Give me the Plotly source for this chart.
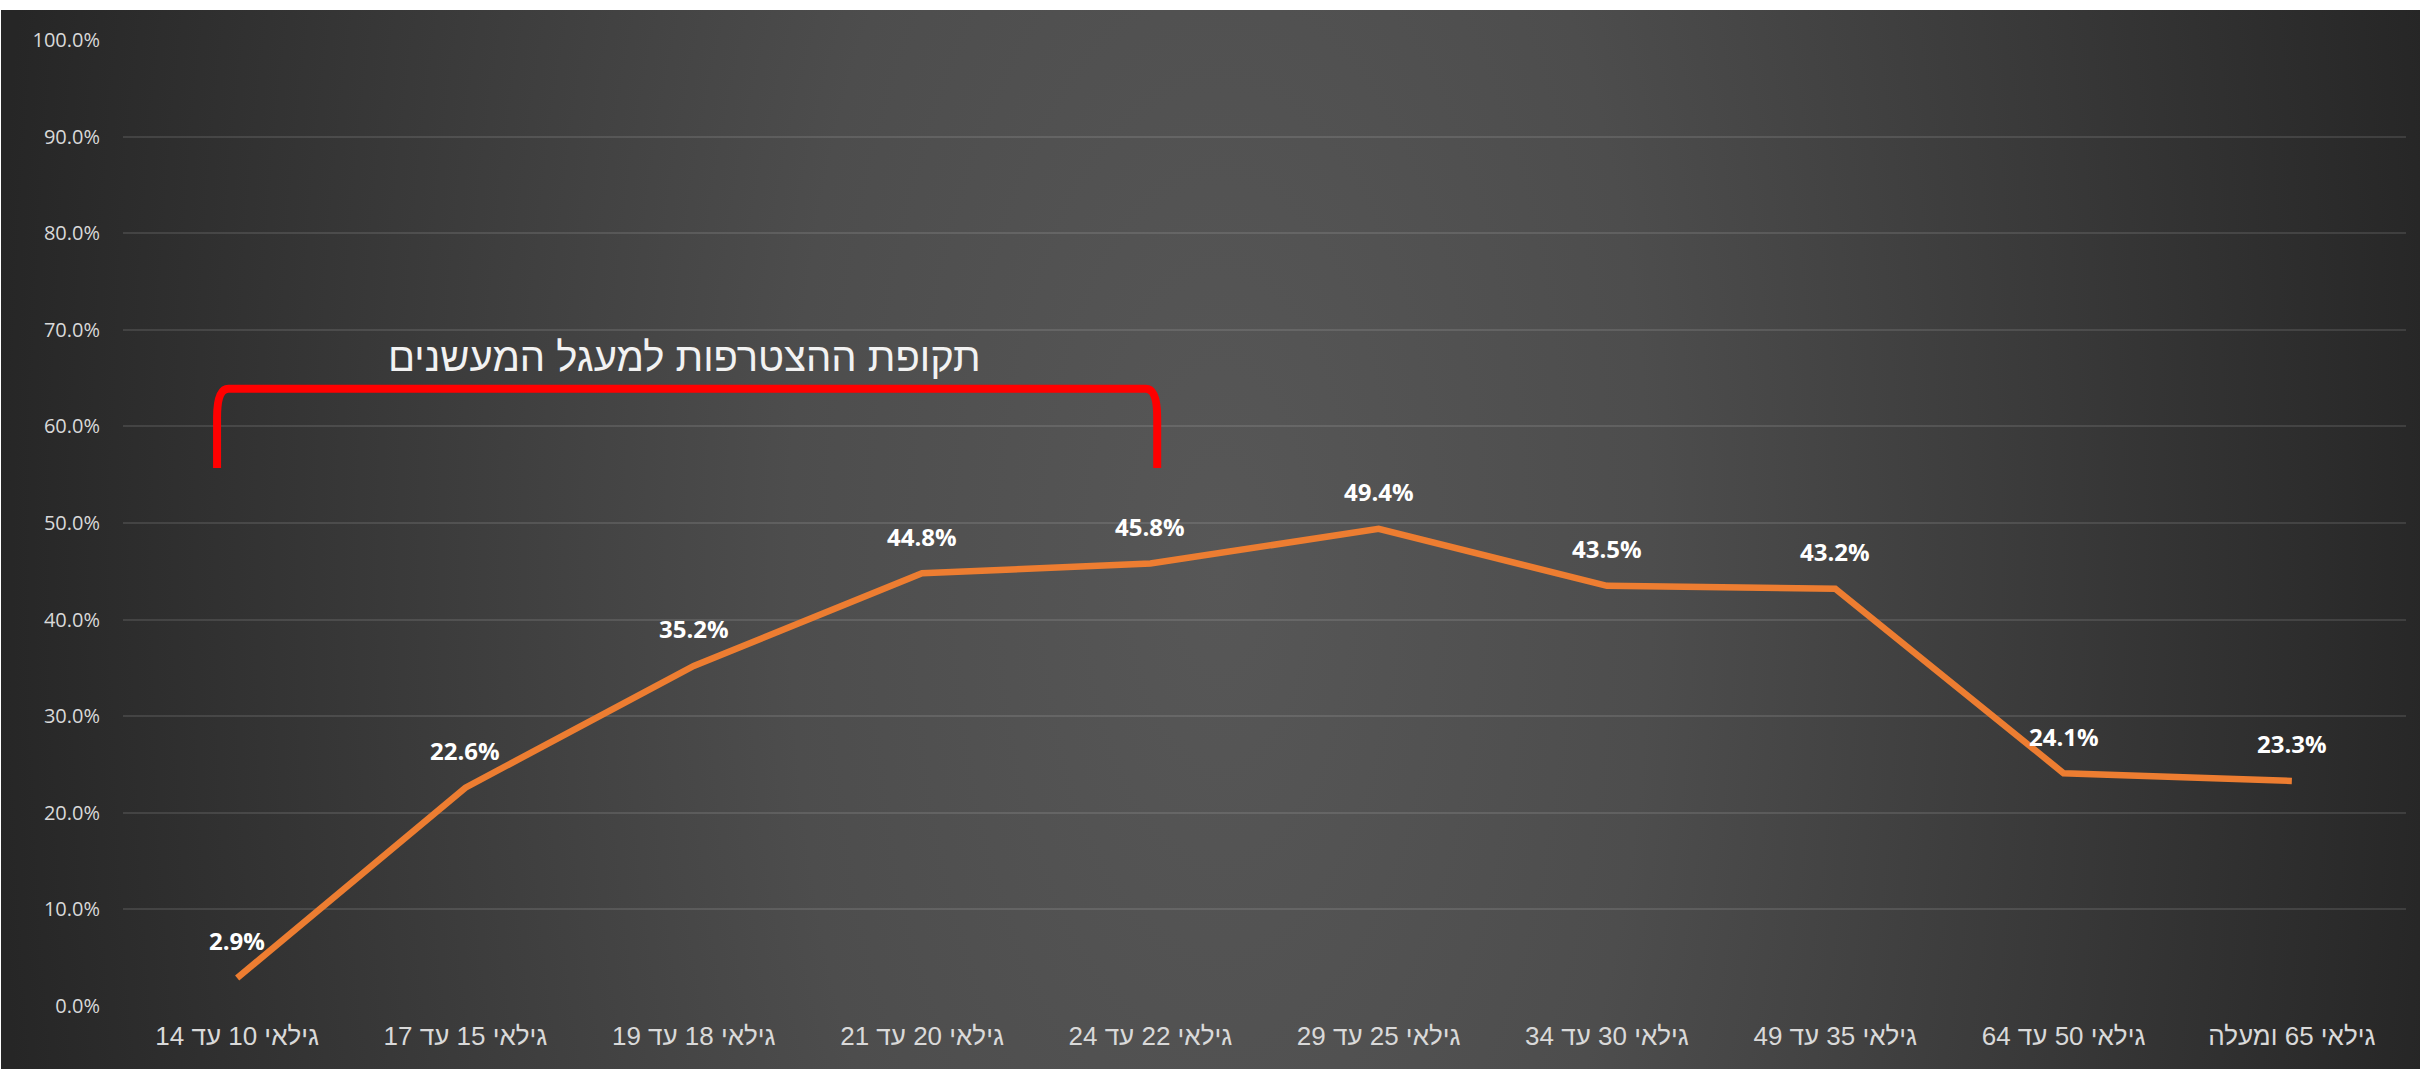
import base64
import plotly.graph_objects as go

# ---- data ----
categories = [
    "גילאי 10 עד 14",
    "גילאי 15 עד 17",
    "גילאי 18 עד 19",
    "גילאי 20 עד 21",
    "גילאי 22 עד 24",
    "גילאי 25 עד 29",
    "גילאי 30 עד 34",
    "גילאי 35 עד 49",
    "גילאי 50 עד 64",
    "גילאי 65 ומעלה",
]
values = [0.029, 0.226, 0.352, 0.448, 0.458, 0.494, 0.435, 0.432, 0.241, 0.233]
bracket_text = "תקופת ההצטרפות למעגל המעשנים"

# ---- layout geometry ----
W, H = 2420, 1069
L, R, T, B = 123, 14, 40, 63
pw, ph = W - L - R, H - T - B

# background gradient as an SVG image
svg = f'''<svg xmlns="http://www.w3.org/2000/svg" width="{W}" height="{H}" viewBox="0 0 {W} {H}">
<defs><radialGradient id="g" gradientUnits="userSpaceOnUse" cx="1220" cy="560" r="1230"
 gradientTransform="translate(1220 560) scale(1 2.2) translate(-1220 -560)">
<stop offset="0" stop-color="#575757"/>
<stop offset="0.35" stop-color="#4d4d4d"/>
<stop offset="1" stop-color="#262626"/>
</radialGradient></defs>
<rect x="0" y="0" width="{W}" height="{H}" fill="url(#g)"/>
</svg>'''
src = "data:image/svg+xml;base64," + base64.b64encode(svg.encode()).decode()

x_idx = list(range(len(categories)))
HEB = "Liberation Sans, Arial, sans-serif"

fig = go.Figure()
fig.add_trace(go.Scatter(
    x=x_idx, y=values, mode="lines",
    line=dict(color="#ED7D31", width=6.5),
    hoverinfo="skip", showlegend=False,
))

for xi, v in zip(x_idx, values):
    fig.add_annotation(
        x=xi, y=v, text=f"{v*100:.1f}%", showarrow=False, yshift=37,
        font=dict(family="Open Sans, Liberation Sans, sans-serif", size=24, color="#ffffff", weight="bold"),
    )

# bracket
x0, x1 = -0.088, 4.03
yb, yt = 0.557, 0.639
dx, dy = 0.05, 0.03
path = (f"M {x0},{yb} L {x0},{yt-dy} Q {x0},{yt} {x0+dx},{yt} "
        f"L {x1-dx},{yt} Q {x1},{yt} {x1},{yt-dy} L {x1},{yb}")
fig.add_shape(type="path", path=path, xref="x", yref="y",
              line=dict(color="#FF0000", width=8), layer="above")
fig.add_annotation(
    x=1.96, y=0.672, text=bracket_text, showarrow=False,
    font=dict(family=HEB, size=40, color="#f2f2f2"),
)

fig.add_layout_image(dict(
    source=src, xref="paper", yref="paper",
    x=(1 - L) / pw, y=(H - B - 10) / ph,
    sizex=(W - 1) / pw, sizey=(H - 10) / ph,
    xanchor="left", yanchor="top", sizing="stretch", layer="below",
))

fig.update_layout(
    width=W, height=H,
    margin=dict(l=L, r=R, t=T, b=B, pad=0),
    paper_bgcolor="#ffffff",
    plot_bgcolor="rgba(0,0,0,0)",
    showlegend=False,
    xaxis=dict(
        tickmode="array", tickvals=x_idx, ticktext=categories,
        range=[-0.5, len(categories) - 0.5],
        showgrid=False, zeroline=False, showline=False,
        ticks="", ticklabelstandoff=12,
        tickfont=dict(family=HEB, size=26, color="#d9d9d9"),
    ),
    yaxis=dict(
        range=[0, 1], dtick=0.1, tickformat=".1%",
        showgrid=True, gridcolor="rgba(255,255,255,0.11)", gridwidth=2,
        zeroline=False, showline=False, ticks="", ticklabelstandoff=22,
        tickfont=dict(family="Open Sans, Liberation Sans, sans-serif", size=20, color="#d9d9d9"),
    ),
)

fig.write_html("out.html")
